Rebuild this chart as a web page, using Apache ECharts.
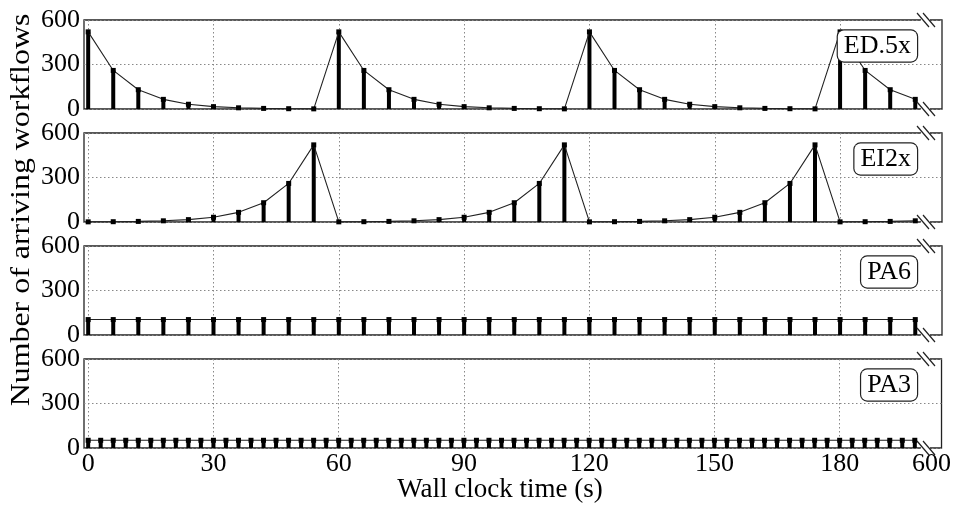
<!DOCTYPE html>
<html><head><meta charset="utf-8">
<script src="https://cdn.jsdelivr.net/npm/echarts@6/dist/echarts.min.js"></script>
<style>html,body{margin:0;padding:0;background:#fff}#c{width:954px;height:512px}</style>
</head><body><div id="c"></div>
<script>
const FONT = "'Liberation Serif','Times New Roman','DejaVu Serif',serif";
const panelNames = ['ED.5x', 'EI2x', 'PA6', 'PA3'];
const times6 = [0,6,12,18,24,30,36,42,48,54,60,66,72,78,84,90,96,102,108,114,120,126,132,138,144,150,156,162,168,174,180,186,192,198];
const times3 = [0,3,6,9,12,15,18,21,24,27,30,33,36,39,42,45,48,51,54,57,60,63,66,69,72,75,78,81,84,87,90,93,96,99,102,105,108,111,114,117,120,123,126,129,132,135,138,141,144,147,150,153,156,159,162,165,168,171,174,177,180,183,186,189,192,195,198];
const edValues = [520,260,130,65,32,16,8,4,2,1, 520,260,130,65,32,16,8,4,2,1, 520,260,130,65,32,16,8,4,2,1, 520,260,130,65];
const eiValues = [1,2,4,8,16,32,65,130,260,520, 1,2,4,8,16,32,65,130,260,520, 1,2,4,8,16,32,65,130,260,520, 1,2,4,8];
const pa6Values = [104,104,104,104,104,104,104,104,104,104,104,104,104,104,104,104,104,104,104,104,104,104,104,104,104,104,104,104,104,104,104,104,104,104];
const pa3Values = [52,52,52,52,52,52,52,52,52,52,52,52,52,52,52,52,52,52,52,52,52,52,52,52,52,52,52,52,52,52,52,52,52,52,52,52,52,52,52,52,52,52,52,52,52,52,52,52,52,52,52,52,52,52,52,52,52,52,52,52,52,52,52,52,52,52,52];
const xTicks = [0,30,60,90,120,150,180];
const xBreakLabel = '600';
const xBreakPos = 202;
const yMin = 0, yMax = 600, yStep = 300;
const xMin = -1, xMax = 204.4;
const yTitle = 'Number of arriving workflows';
const xTitle = 'Wall clock time (s)';

const panelData = [
  [times6, edValues],
  [times6, eiValues],
  [times6, pa6Values],
  [times3, pa3Values]
];

const tops = [20, 133, 246, 359];
const H = 89, LEFT = 84, RIGHT = 942;

const chart = echarts.init(document.getElementById('c'));
const grids = [], xAxes = [], yAxes = [], series = [], graphics = [];
panelData.forEach((pd, i) => {
  const pts = pd[0].map((t, k) => [t, pd[1][k]]);
  grids.push({left: LEFT, width: RIGHT - LEFT, top: tops[i], height: H, show: true,
    borderColor: '#222', borderWidth: 1.3, backgroundColor: 'transparent'});
  xAxes.push({type: 'value', gridIndex: i, min: xMin, max: xMax,
    axisLine: {show: false},
    axisTick: {show: false, customValues: xTicks},
    axisLabel: {show: i === 3, customValues: xTicks.concat([xBreakPos]),
      formatter: v => (v === xBreakPos ? xBreakLabel : String(v)),
      fontFamily: FONT, fontSize: 26, color: '#000', margin: 3},
    splitLine: {show: true, lineStyle: {type: [1.5, 2.5], color: '#888', width: 1}}
  });
  yAxes.push({type: 'value', gridIndex: i, min: yMin, max: yMax, interval: yStep,
    axisLine: {show: false}, axisTick: {show: false},
    axisLabel: {fontFamily: FONT, fontSize: 26, color: '#000', margin: 4},
    splitLine: {show: true, lineStyle: {type: [1.5, 2.5], color: '#888', width: 1}}
  });
  series.push({type: 'bar', xAxisIndex: i, yAxisIndex: i, data: pts, barWidth: 4,
    itemStyle: {color: '#000'}, silent: true, animation: false, z: 2});
  series.push({type: 'line', xAxisIndex: i, yAxisIndex: i, data: pts,
    symbol: 'rect', symbolSize: 5, showSymbol: true,
    lineStyle: {color: '#222', width: 1.1}, itemStyle: {color: '#000'},
    silent: true, animation: false, z: 3});

  // label box
  graphics.push({type: 'text', x: 917, y: tops[i] + 26, z: 10,
    style: {text: panelNames[i], font: '26px ' + FONT, fill: '#000',
      align: 'right', verticalAlign: 'middle',
      backgroundColor: '#fff', borderColor: '#222', borderWidth: 1.2, borderRadius: 6,
      padding: [3, 6, 2, 6]}});
  // axis break marks
  [tops[i], tops[i] + H].forEach(yy => {
    graphics.push({type: 'rect', z: 20, shape: {x: 921, y: yy - 2, width: 9, height: 4},
      style: {fill: '#fff'}});
    [0, 6].forEach(off => {
      graphics.push({type: 'line', z: 21,
        shape: {x1: 917 + off, y1: yy - 7, x2: 929 + off, y2: yy + 7},
        style: {stroke: '#222', lineWidth: 1.2}});
    });
  });
});

graphics.push({type: 'text', x: 22, y: 210, rotation: Math.PI / 2, scaleX: 1.14,
  style: {text: yTitle, font: '28px ' + FONT, fill: '#000', align: 'center', verticalAlign: 'middle'}});
graphics.push({type: 'text', x: 500, y: 490,
  style: {text: xTitle, font: '27px ' + FONT, fill: '#000', align: 'center', verticalAlign: 'middle'}});

chart.setOption({
  animation: false,
  grid: grids, xAxis: xAxes, yAxis: yAxes, series: series, graphic: graphics
});
</script></body></html>
